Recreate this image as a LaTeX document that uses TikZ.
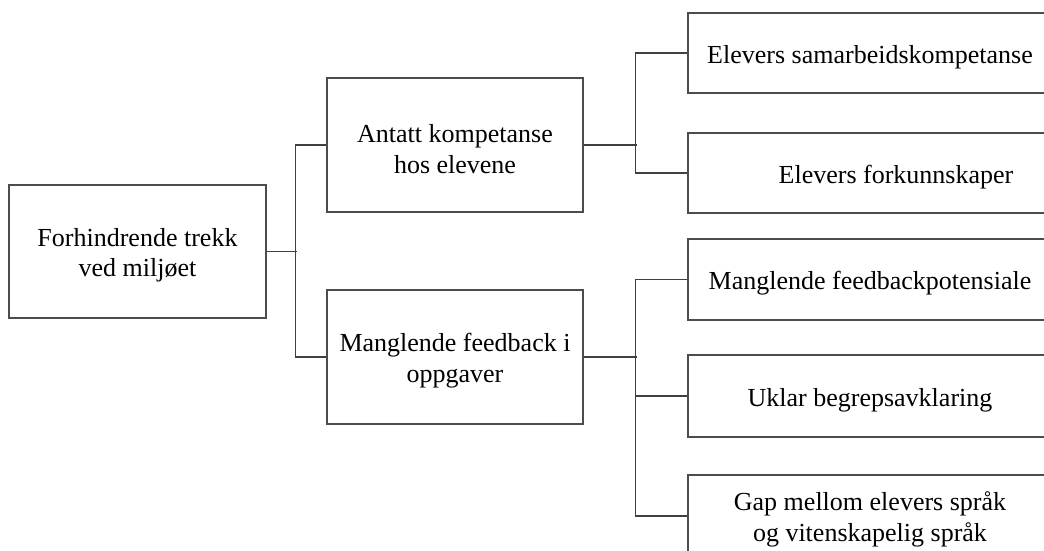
\documentclass[tikz,border=0pt]{standalone}
\usepackage{fontspec}
\setmainfont{Liberation Serif}
% taller first line pushes each label slightly below the box centre
\newcommand\lowstrut{\rule{0pt}{26pt}}
\tikzset{
  box/.style={draw=black!70, line width=1.1pt, rectangle, inner sep=0pt,
    align=center, font=\fontsize{26}{30.5}\selectfont},
  link/.style={draw=black!75, line width=1.1pt},
}
\begin{document}
\begin{tikzpicture}[x=1pt, y=-1pt]
  \useasboundingbox (0,0) rectangle (1044,551);
  \clip (0,0) rectangle (1044,551);

  % root
  \node[box, minimum width=257pt, minimum height=133pt] (root) at (137.5,251.5)
    {\lowstrut Forhindrende trekk\\ved miljøet};

  % second level
  \node[box, minimum width=256pt, minimum height=134pt] (ant) at (455,145)
    {\lowstrut Antatt kompetanse\\hos elevene};
  \node[box, minimum width=256pt, minimum height=134pt] (mf) at (455,357)
    {\lowstrut Manglende feedback i\\oppgaver};

  % third level (boxes run past the right edge)
  \node[box, minimum width=364pt, minimum height=80pt] (r1) at (870,53)
    {\lowstrut Elevers samarbeidskompetanse};
  \node[box, minimum width=364pt, minimum height=80pt] (r2) at (870,173)
    {\lowstrut\hspace*{52pt}Elevers forkunnskaper};
  \node[box, minimum width=364pt, minimum height=81pt] (r3) at (870,279.5)
    {\lowstrut Manglende feedbackpotensiale};
  \node[box, minimum width=364pt, minimum height=82pt] (r4) at (870,396)
    {\lowstrut Uklar begrepsavklaring};
  \node[box, minimum width=364pt, minimum height=82pt] (r5) at (870,516)
    {\lowstrut Gap mellom elevers språk\\og vitenskapelig språk};

  % connectors
  \draw[link] (root.east) -- ++(30,0);
  \draw[link] (ant.west) -- ++(-31,0) |- (mf.west);

  \draw[link] (ant.east) -- ++(53,0);
  \draw[link] (r1.west) -- ++(-52,0) |- (r2.west);

  \draw[link] (mf.east) -- ++(53,0);
  \draw[link] (r3.west) -- ++(-52,0) |- (r5.west);
  \draw[link] (r4.west) -- ++(-52,0);
\end{tikzpicture}
\end{document}
